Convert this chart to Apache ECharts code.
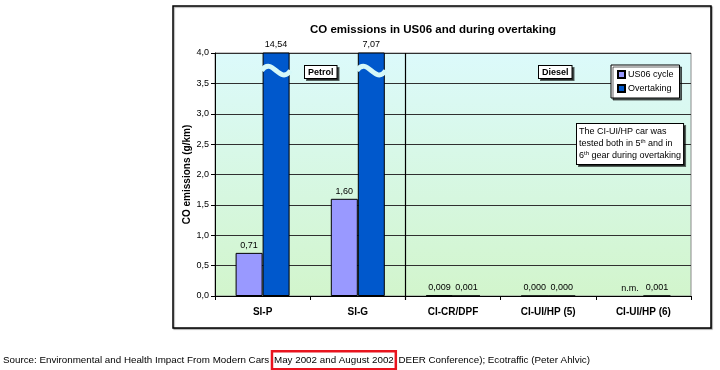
<!DOCTYPE html>
<html><head><meta charset="utf-8">
<script src="https://cdn.jsdelivr.net/npm/echarts@6/dist/echarts.min.js"></script>
<style>html,body{margin:0;padding:0;background:#fff}#c{width:720px;height:370px}</style>
</head><body><div id="c"></div>
<script>
const categories = ['SI-P', 'SI-G', 'CI-CR/DPF', 'CI-UI/HP (5)', 'CI-UI/HP (6)'];
const us06 = [0.71, 1.60, 0.009, 0.000, null];
const overtaking = [14.54, 7.07, 0.001, 0.000, 0.001];
const seriesNames = ['US06 cycle', 'Overtaking'];
const yMin = 0, yMax = 4, yStep = 0.5;
const titleText = 'CO emissions in US06 and during overtaking';
const yAxisTitle = 'CO emissions (g/km)';
const groupLabels = ['Petrol', 'Diesel'];
const noteText = 'The CI-UI/HP car was\ntested both in 5{sup|th} and in\n6{sup|th} gear during overtaking';
const sourcePre = 'Source: Environmental and Health Impact From Modern Cars ';
const sourceBox = 'May 2002 and August 2002';
const sourcePost = ' DEER Conference); Ecotraffic (Peter Ahlvic)';

const FONT = 'Liberation Sans, Arial, sans-serif';
const BAR_W = 27;
function fmt(v) {
  if (v === null || v === undefined) return 'n.m.';
  return v.toFixed(v >= 0.1 ? 2 : 3).replace('.', ',');
}
const chart = echarts.init(document.getElementById('c'), null, {renderer: 'canvas'});

const waveData = [];
overtaking.forEach((v, i) => { if (v > yMax) waveData.push([i, v]); });
const nmData = [];
us06.forEach((v, i) => { if (v === null) nmData.push([i, 0]); });

const option = {
  backgroundColor: '#fff',
  animation: false,
  title: {
    text: titleText, left: 428, top: 19, textAlign: 'center',
    textStyle: {fontFamily: FONT, fontSize: 11.5, fontWeight: 'bold', color: '#000'}
  },
  legend: {
    data: seriesNames, orient: 'vertical', left: 611, top: 65,
    itemWidth: 7, itemHeight: 7, itemGap: 5, padding: [5, 6, 5, 6],
    backgroundColor: '#fff', borderColor: '#000', borderWidth: 1,
    shadowColor: 'rgba(0,0,0,0.6)', shadowOffsetX: 2, shadowOffsetY: 2, shadowBlur: 0,
    textStyle: {fontFamily: FONT, fontSize: 9, color: '#000', padding: [0, 0, 0, -2]},
    icon: 'rect', selectedMode: false
  },
  grid: {
    left: 215, right: 29, top: 53, bottom: 74, show: true,
    backgroundColor: new echarts.graphic.LinearGradient(0, 0, 0, 1, [
      {offset: 0, color: '#dcfafb'}, {offset: 1, color: '#d2f5cc'}]),
    borderColor: '#8a8a8a', borderWidth: 1
  },
  xAxis: {
    type: 'category', data: categories,
    axisLine: {lineStyle: {color: '#000', width: 1}},
    axisTick: {show: true, length: 4, lineStyle: {color: '#000'}},
    axisLabel: {fontFamily: FONT, fontSize: 10, fontWeight: 'bold', color: '#000', margin: 11}
  },
  yAxis: {
    type: 'value', min: yMin, max: yMax, interval: yStep,
    name: yAxisTitle, nameLocation: 'middle', nameRotate: 90, nameGap: 23, nameMoveOverlap: false,
    nameTextStyle: {fontFamily: FONT, fontSize: 10, fontWeight: 'bold', color: '#000'},
    axisLine: {show: true, lineStyle: {color: '#000'}},
    axisTick: {show: true, length: 4, lineStyle: {color: '#000'}},
    axisLabel: {fontFamily: FONT, fontSize: 9, color: '#000', margin: 6,
      formatter: v => v.toFixed(1).replace('.', ',')},
    splitLine: {show: true, lineStyle: {color: '#303030', width: 1}}
  },
  series: [
    {
      name: seriesNames[0], type: 'bar', data: us06, barWidth: BAR_W, barGap: '0%',
      itemStyle: {color: '#9999ff', borderColor: '#000', borderWidth: 1},
      label: {show: true, position: 'top', distance: 3, fontFamily: FONT, fontSize: 9, color: '#000',
        formatter: p => fmt(p.value)}
    },
    {
      name: seriesNames[1], type: 'bar', data: overtaking, barWidth: BAR_W, clip: true,
      itemStyle: {color: '#0058cc', borderColor: '#000', borderWidth: 1},
      label: {show: true, position: 'top', distance: 3, fontFamily: FONT, fontSize: 9, color: '#000',
        formatter: p => fmt(p.value)}
    },
    {
      type: 'custom', data: waveData, silent: true, z: 5,
      renderItem: (params, api) => {
        const i = api.value(0);
        const c = api.coord([i, 3.71]);
        const x0 = c[0] - 1, w = BAR_W + 2, y = c[1];
        return {
          type: 'path',
          shape: {pathData: `M${x0},${y} C${x0 + w * 0.38},${y - 15} ${x0 + w * 0.62},${y + 15} ${x0 + w},${y}`},
          style: {fill: null, stroke: '#d6f8f8', lineWidth: 5}
        };
      }
    },
    {
      type: 'custom', data: [[1, 0]], silent: true, z: 4,
      renderItem: (params, api) => {
        const i = api.value(0);
        const bw = api.size([1, 0])[0];
        const b = api.coord([i, yMin]);
        const t = api.coord([i, yMax]);
        const x = Math.round(b[0] + bw / 2) + 0.5;
        return {type: 'line', shape: {x1: x, y1: t[1], x2: x, y2: b[1] + 4},
          style: {stroke: '#000', lineWidth: 1.2}};
      }
    },
    {
      type: 'custom', data: nmData, silent: true, z: 6,
      renderItem: (params, api) => {
        const c = api.coord([api.value(0), api.value(1)]);
        return {type: 'text', x: c[0] - BAR_W / 2, y: c[1] - 3,
          style: {text: 'n.m.', textAlign: 'center', textVerticalAlign: 'bottom',
            font: '9px ' + FONT, fill: '#000'}};
      }
    }
  ],
  graphic: [
    {type: 'rect', shape: {x: 173, y: 6, width: 538, height: 322}, z: -10,
      style: {fill: '#fff', stroke: '#000', lineWidth: 1.5,
        shadowColor: 'rgba(0,0,0,0.35)', shadowOffsetX: 1, shadowOffsetY: 1, shadowBlur: 1}},
    {type: 'text', left: 304, top: 65, z: 20,
      style: {text: groupLabels[0], font: 'bold 9px ' + FONT, fill: '#000',
        backgroundColor: '#fff', borderColor: '#000', borderWidth: 1, padding: [2, 3, 1, 3],
        shadowColor: 'rgba(0,0,0,0.6)', shadowOffsetX: 2, shadowOffsetY: 2}},
    {type: 'text', left: 538, top: 65, z: 20,
      style: {text: groupLabels[1], font: 'bold 9px ' + FONT, fill: '#000',
        backgroundColor: '#fff', borderColor: '#000', borderWidth: 1, padding: [2, 3, 1, 3],
        shadowColor: 'rgba(0,0,0,0.6)', shadowOffsetX: 2, shadowOffsetY: 2}},
    {type: 'text', left: 576, top: 123, z: 20,
      style: {text: noteText, font: '9px ' + FONT, fill: '#000', lineHeight: 12,
        backgroundColor: '#fff', borderColor: '#000', borderWidth: 1, padding: [2, 2, 2, 2],
        shadowColor: 'rgba(0,0,0,0.6)', shadowOffsetX: 2, shadowOffsetY: 2,
        rich: {sup: {fontSize: 6, verticalAlign: 'top', lineHeight: 12, fontFamily: FONT}}}},
    {type: 'text', left: 3, top: 350, z: 20,
      style: {text: '{a|' + sourcePre + '}{b|' + sourceBox + '}{a|' + sourcePost + '}',
        rich: {
          a: {fontSize: 9.8, fontFamily: FONT, color: '#000', lineHeight: 16},
          b: {fontSize: 9.8, fontFamily: FONT, color: '#000', borderColor: '#e8141e', borderWidth: 2.5,
              padding: [4, 2, 4, 2], lineHeight: 16}
        }}}
  ]
};
chart.setOption(option);
</script></body></html>
